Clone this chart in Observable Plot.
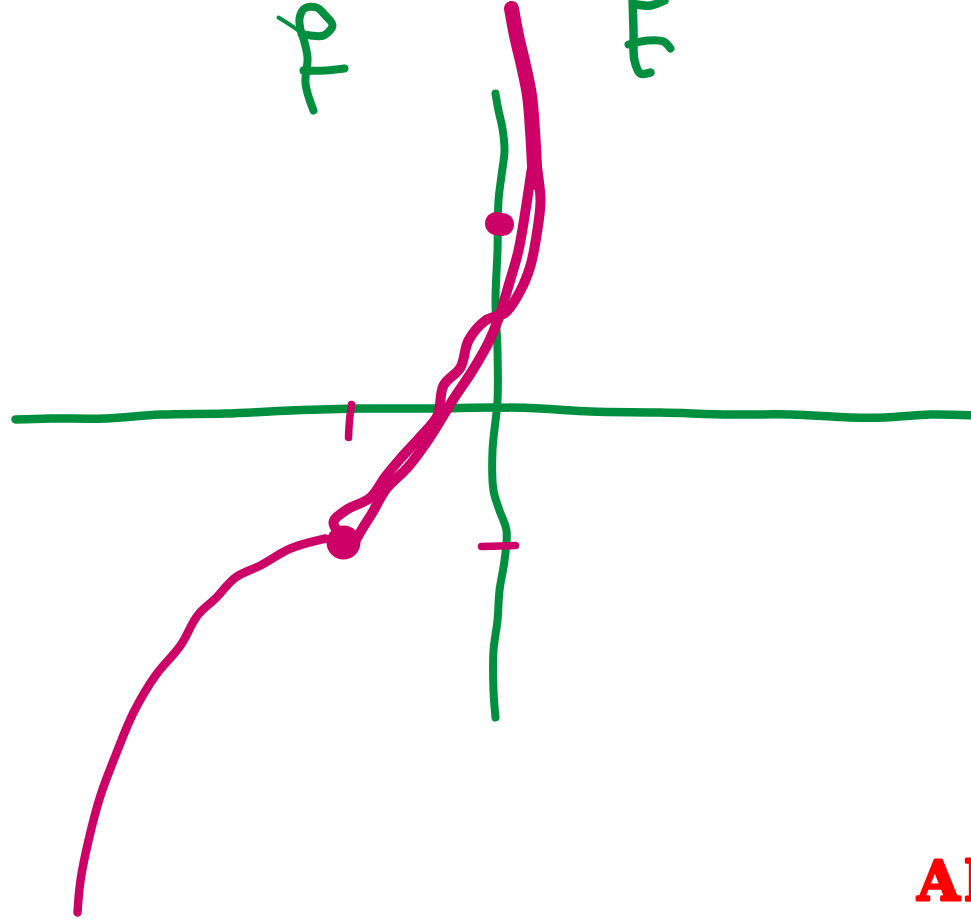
<!DOCTYPE html>
<html><head><meta charset="utf-8">
<style>html,body{margin:0;padding:0;background:#fff;overflow:hidden}svg{display:block}svg text{letter-spacing:5px}</style>
<script src="https://cdn.jsdelivr.net/npm/d3@7"></script>
<script src="https://cdn.jsdelivr.net/npm/@observablehq/plot@0.6"></script>
</head><body><div id="chart"></div>
<script>
const horizontalAxis = [[15,419],[50,418],[105,418],[160,414],[225,413],[290,410],[360,408],[430,408],[495,407],[540,408],[590,411],[660,412],[730,414],[790,414],[850,417],[885,417],[930,414],[975,415]];
const verticalAxis = [[495,93],[498,110],[502,128],[504,150],[501,175],[498,200],[497,250],[495,300],[497,350],[497,400],[492,450],[493,490],[499,510],[506,530],[504,560],[499,590],[497,620],[493,650],[493,690],[495,717]];
const letterPTail = [[278,17],[295,28],[301,33]];
const letterPLoop = [[301,33],[299,18],[304,8],[316,7],[325,15],[332,25],[323,35],[310,35],[301,33]];
const letterPStem = [[302,35],[307,57],[305,83],[313,110]];
const letterPBar = [[303,70],[325,70],[344,68]];
const letterEStem = [[632,-4],[633,30],[634,60],[640,73],[650,72]];
const letterETop = [[636,4],[650,5],[664,0]];
const letterEBar = [[628,44],[647,40],[663,41],[670,48]];
const curveLower = [[77,912],[80,880],[88,840],[100,795],[115,755],[133,712],[155,675],[180,645],[197,615],[215,598],[235,577],[260,565],[290,548],[325,538]];
const curveTop = [[511,8],[516,35],[523,65],[529,95],[532,130],[534,165],[535,182]];
const strandA = [[355,540],[362,528],[372,512],[386,488],[408,466],[430,436],[452,400],[472,370],[488,342],[498,318],[509,282],[518,250],[525,210],[531,170]];
const strandB = [[345,540],[333,522],[345,510],[370,497],[385,476],[400,458],[420,436],[437,415],[443,385],[460,367],[468,340],[485,320],[505,312],[520,290],[530,265],[536,235],[540,200],[536,165]];
const tickX = [[351,404],[349,420],[348,437]];
const tickY = [[481,546],[515,545]];
const blobs = [[343,542,17],[496,223,11.5],[502,224,11.5]];
const cornerLabel = "Al";

const GREEN = "#008f3e", MAGENTA = "#cc0066";
const stroke = (pts, color, w) => Plot.line(pts, {x: d => d[0], y: d => d[1], stroke: color, strokeWidth: w, curve: "catmull-rom", strokeLinecap: "round", strokeLinejoin: "round"});

const plot = Plot.plot({
  width: 971, height: 919,
  margin: 0,
  x: {domain: [0, 971], range: [0, 971], axis: null},
  y: {domain: [0, 919], range: [0, 919], axis: null},
  style: {background: "#fff"},
  marks: [
    stroke(horizontalAxis, GREEN, 8.5),
    stroke(verticalAxis, GREEN, 8),
    stroke(letterPTail, GREEN, 4),
    stroke(letterPLoop, GREEN, 8),
    stroke(letterPStem, GREEN, 8),
    stroke(letterPBar, GREEN, 8),
    stroke(letterEStem, GREEN, 8.5),
    stroke(letterETop, GREEN, 8.5),
    stroke(letterEBar, GREEN, 8),
    stroke(curveLower, MAGENTA, 8.5),
    stroke(strandA, MAGENTA, 10),
    stroke(strandB, MAGENTA, 10),
    stroke(curveTop, MAGENTA, 15),
    stroke(tickX, MAGENTA, 7.5),
    stroke(tickY, MAGENTA, 7.5),
    ...blobs.map(b => Plot.dot([b], {x: d => d[0], y: d => d[1], r: b[2], fill: MAGENTA})),
    Plot.text([cornerLabel], {frameAnchor: "bottom-left", dx: 917, dy: -20, text: d => d, fill: "#ff0000", fontFamily: "DejaVu Serif", fontWeight: "bold", fontSize: 54, textAnchor: "start", lineAnchor: "bottom", stroke: "#ff0000", strokeWidth: 3})
  ]
});
document.getElementById("chart").append(plot);
</script></body></html>
